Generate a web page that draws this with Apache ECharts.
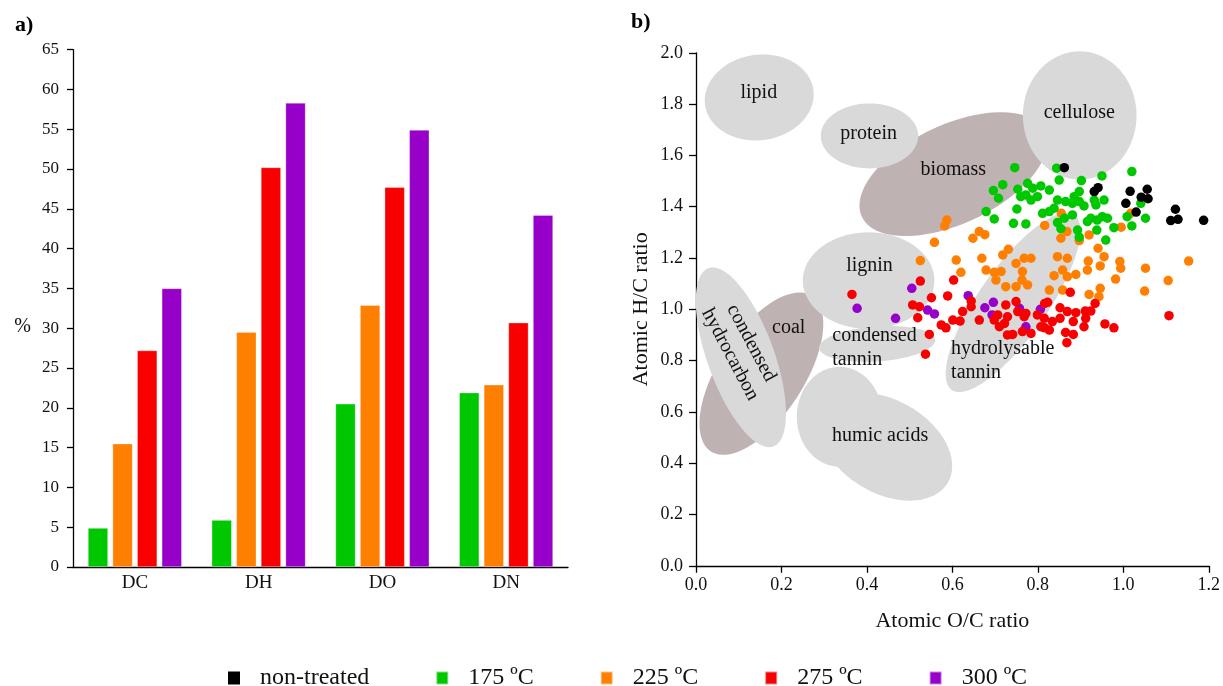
<!DOCTYPE html>
<html>
<head>
<meta charset="utf-8">
<script src="https://cdn.jsdelivr.net/npm/echarts@6/dist/echarts.min.js"></script>
<style>
html,body{margin:0;padding:0;background:#fff;}
#chart{width:1223px;height:686px;}
</style>
</head>
<body>
<div id="chart"></div>
<script>
// ---------- DATA ----------
var categories = ['DC', 'DH', 'DO', 'DN'];
var bar175 = [4.9, 5.9, 20.5, 21.9];
var bar225 = [15.5, 29.5, 32.9, 22.9];
var bar275 = [27.2, 50.2, 47.7, 30.7];
var bar300 = [35.0, 58.3, 54.9, 44.2];

var seriesNames = ['non-treated', '175 ºC', '225 ºC', '275 ºC', '300 ºC'];

// van Krevelen points [O/C, H/C]
var ptsNonTreated = [[0.862,1.552],[0.932,1.459],[0.941,1.474],[1.016,1.460],[1.056,1.468],[1.042,1.437],[1.058,1.431],[1.006,1.413],[1.030,1.379],[1.122,1.390],[1.111,1.346],[1.128,1.351],[1.188,1.347]];
var pts175 = [[0.746,1.552],[0.718,1.486],[0.696,1.463],[0.708,1.433],[0.679,1.381],[0.698,1.352],[0.751,1.391],[0.743,1.335],[0.753,1.468],[0.760,1.439],
  [0.844,1.550],[0.950,1.520],[1.020,1.537],[0.902,1.502],[0.850,1.504],[0.827,1.465],[0.807,1.481],[0.788,1.472],[0.776,1.491],[0.772,1.446],[0.799,1.439],[0.784,1.426],[0.846,1.426],[0.865,1.420],[0.885,1.439],[0.897,1.459],[0.897,1.420],[0.881,1.413],[0.908,1.403],[0.932,1.426],[0.955,1.426],[0.936,1.407],[0.951,1.361],[0.963,1.355],[0.924,1.355],[0.916,1.342],[0.939,1.348],[0.881,1.368],[0.862,1.355],[0.846,1.338],[0.854,1.314],[0.893,1.309],[0.897,1.281],[0.938,1.309],[0.959,1.270],[0.978,1.318],[1.009,1.361],[1.020,1.325],[1.052,1.355],[1.041,1.413],[0.811,1.374],[0.827,1.381],[0.838,1.394],[0.772,1.333]];
var pts225 = [[0.587,1.348],[0.582,1.325],[0.558,1.261],[0.648,1.277],[0.663,1.303],[0.676,1.291],[0.731,1.234],
  [0.855,1.374],[0.816,1.327],[0.868,1.303],[0.854,1.277],[0.897,1.268],[0.920,1.290],[0.995,1.320],[1.017,1.374],[0.941,1.238],
  [0.525,1.190],[0.609,1.192],[0.669,1.199],[0.718,1.212],[0.620,1.144],[0.679,1.153],[0.714,1.147],[0.702,1.114],[0.725,1.088],[0.749,1.088],[0.763,1.114],[0.764,1.147],[0.749,1.179],[0.768,1.199],[0.698,1.144],
  [0.784,1.199],[0.846,1.205],[0.869,1.199],[0.918,1.188],[0.955,1.205],[0.992,1.186],[0.994,1.160],[0.946,1.169],[0.916,1.153],[0.858,1.153],[0.838,1.131],[0.869,1.127],[0.889,1.136],[0.776,1.095],[0.827,1.075],[0.858,1.075],[0.920,1.058],[0.943,1.049],[0.946,1.082],[0.982,1.118],[1.052,1.160],[1.105,1.112],[1.050,1.071],[1.153,1.188]];
var pts275 = [[0.365,1.058],[0.525,1.110],[0.603,1.114],[0.551,1.045],[0.589,1.052],[0.507,1.017],[0.523,1.010],[0.519,0.967],[0.574,0.939],[0.585,0.928],[0.601,0.958],[0.618,0.954],[0.624,0.991],[0.644,1.032],[0.644,1.010],[0.663,0.958],[0.698,0.958],[0.710,0.932],[0.722,0.945],[0.725,1.017],[0.749,1.030],[0.753,0.991],[0.772,0.984],[0.764,0.913],[0.729,0.900],[0.741,0.902],[0.546,0.902],[0.537,0.825],[0.706,0.978],[0.729,0.971],
  [0.876,1.066],[0.768,0.971],[0.816,1.023],[0.823,1.027],[0.799,0.978],[0.815,0.965],[0.852,1.006],[0.852,0.965],[0.834,0.952],[0.816,0.928],[0.827,0.919],[0.784,0.906],[0.869,0.991],[0.889,0.987],[0.911,0.993],[0.924,0.993],[0.934,1.023],[0.912,0.965],[0.883,0.952],[0.908,0.932],[0.865,0.910],[0.883,0.902],[0.957,0.943],[0.978,0.928],[0.868,0.870],[1.107,0.975],[0.807,0.932]];
var pts300 = [[0.377,1.004],[0.467,0.965],[0.505,1.082],[0.542,0.997],[0.558,0.982],[0.637,1.053],[0.676,1.006],[0.696,1.027],[0.693,0.978],[0.772,0.932],[0.757,1.004],[0.806,1.000]];

// compound-class regions: [centre O/C, centre H/C, semi-axis a, semi-axis b (both in O/C units), tilt deg, kind 0=grey 1=brown]
var regionShapes = [
  [0.153, 0.749, 0.217, 0.100, -57, 1],  // coal
  [0.602, 1.527, 0.236, 0.116, -25, 1],  // biomass
  [0.148, 1.826, 0.128, 0.100, -8, 0],   // lipid
  [0.406, 1.676, 0.114, 0.076, 0, 0],    // protein
  [0.898, 1.756, 0.133, 0.150, 0, 0],    // cellulose
  [0.404, 1.112, 0.154, 0.113, 0, 0],    // lignin
  [0.424, 0.865, 0.136, 0.041, -4, 0],   // condensed tannin
  [0.742, 1.027, 0.250, 0.080, -55, 0],  // hydrolysable tannin
  [0.105, 0.813, 0.222, 0.078, 70, 0],   // condensed hydrocarbon
  [0.336, 0.581, 0.100, 0.117, 0, 0],    // humic acids (lobe 1)
  [0.445, 0.464, 0.167, 0.109, 30, 0]    // humic acids (lobe 2)
];
// region names: [O/C, H/C, text, rotation deg (clockwise), align]
var regionLabels = [
  [0.147, 1.843, 'lipid', 0, 'center'],
  [0.404, 1.684, 'protein', 0, 'center'],
  [0.602, 1.544, 'biomass', 0, 'center'],
  [0.897, 1.766, 'cellulose', 0, 'center'],
  [0.406, 1.169, 'lignin', 0, 'center'],
  [0.217, 0.930, 'coal', 0, 'center'],
  [0.319, 0.850, 'condensed\ntannin', 0, 'left'],
  [0.597, 0.798, 'hydrolysable\ntannin', 0, 'left'],
  [0.431, 0.507, 'humic acids', 0, 'center'],
  [0.1046, 0.846, 'condensed\nhydrocarbon', 62, 'center']
];

// ---------- STYLE ----------
var FONT = '"Liberation Serif", "Times New Roman", serif';
var C_BLACK = '#000000', C_GREEN = '#00c800', C_ORANGE = '#ff8000', C_RED = '#f80000', C_PURPLE = '#9600c8';
var GREY = '#d9d9d9', BROWN = '#bfb2b2';

var chart = echarts.init(document.getElementById('chart'), null, {renderer: 'canvas'});

function barSeries(name, data, color) {
  return {
    name: name, type: 'bar', xAxisIndex: 0, yAxisIndex: 0, data: data,
    barWidth: 20, barGap: '23%',
    itemStyle: {color: color, borderColor: 'rgba(255,255,255,0.5)', borderWidth: 0.6}
  };
}
function scatterSeries(name, data, color) {
  return {
    name: name, type: 'scatter', xAxisIndex: 1, yAxisIndex: 1, data: data,
    symbolSize: 9.5, z: 4,
    itemStyle: {color: color, opacity: 1}
  };
}

var axisLineStyle = {lineStyle: {color: '#000', width: 1.3}};

var option = {
  backgroundColor: '#fff',
  animation: false,
  textStyle: {fontFamily: FONT},
  graphic: [
    {type: 'text', left: 15, top: 14, style: {text: 'a)', font: 'bold 22px ' + FONT, fill: '#000'}},
    {type: 'text', left: 631, top: 11, style: {text: 'b)', font: 'bold 22px ' + FONT, fill: '#000'}}
  ],
  legend: {
    data: seriesNames,
    left: 223, top: 661,
    icon: 'rect', itemWidth: 12, itemHeight: 13, itemGap: 66,
    textStyle: {fontSize: 24, fontFamily: FONT, color: '#111', padding: [0, 0, 0, 15]}
  },
  grid: [
    {left: 73, top: 49.6, width: 495, height: 517.4, containLabel: false},
    {left: 696, top: 52.8, width: 514, height: 513, containLabel: false}
  ],
  xAxis: [
    {
      gridIndex: 0, type: 'category', data: categories,
      axisLine: axisLineStyle, axisTick: {show: false},
      axisLabel: {fontSize: 19, fontFamily: FONT, color: '#111', margin: 7},
      splitLine: {show: false}
    },
    {
      gridIndex: 1, type: 'value', min: 0, max: 1.2, interval: 0.2,
      name: 'Atomic O/C ratio', nameLocation: 'middle', nameGap: 44,
      nameTextStyle: {fontSize: 22, fontFamily: FONT, color: '#111'},
      axisLine: axisLineStyle, axisTick: {show: true, inside: false, length: 7, lineStyle: {color: '#000', width: 1.3}},
      axisLabel: {fontSize: 18, fontFamily: FONT, color: '#111', margin: 10, formatter: function (v) { return v.toFixed(1); }},
      splitLine: {show: false}
    }
  ],
  yAxis: [
    {
      gridIndex: 0, type: 'value', min: 0, max: 65, interval: 5,
      name: '%', nameLocation: 'middle', nameRotate: 0, nameGap: 42,
      nameTextStyle: {fontSize: 20, fontFamily: FONT, color: '#111', verticalAlign: 'top', padding: [8, 0, 0, 0]},
      axisLine: {show: true, lineStyle: {color: '#000', width: 1.3}},
      axisTick: {show: true, length: 6, lineStyle: {color: '#000', width: 1.3}},
      axisLabel: {fontSize: 17, fontFamily: FONT, color: '#111', margin: 14},
      splitLine: {show: false}
    },
    {
      gridIndex: 1, type: 'value', min: 0, max: 2.0, interval: 0.2,
      name: 'Atomic H/C ratio', nameLocation: 'middle', nameGap: 44,
      nameTextStyle: {fontSize: 22, fontFamily: FONT, color: '#111'},
      axisLine: {show: true, lineStyle: {color: '#000', width: 1.3}},
      axisTick: {show: true, length: 7, lineStyle: {color: '#000', width: 1.3}},
      axisLabel: {fontSize: 18, fontFamily: FONT, color: '#111', margin: 13, formatter: function (v) { return v.toFixed(1); }},
      splitLine: {show: false}
    }
  ],
  series: [
    barSeries(seriesNames[1], bar175, C_GREEN),
    barSeries(seriesNames[2], bar225, C_ORANGE),
    barSeries(seriesNames[3], bar275, C_RED),
    barSeries(seriesNames[4], bar300, C_PURPLE),
    {
      type: 'custom', xAxisIndex: 1, yAxisIndex: 1, z: 1, silent: true,
      data: regionShapes,
      encode: {x: 0, y: 1},
      renderItem: function (params, api) {
        var c = api.coord([api.value(0), api.value(1)]);
        var a = api.size([api.value(2), 0])[0];
        var b = api.size([api.value(3), 0])[0];
        var ang = api.value(4) * Math.PI / 180;
        var pts = [];
        for (var i = 0; i < 96; i++) {
          var t = i / 96 * 2 * Math.PI;
          var x = a * Math.cos(t), y = b * Math.sin(t);
          pts.push([c[0] + x * Math.cos(ang) - y * Math.sin(ang), c[1] + x * Math.sin(ang) + y * Math.cos(ang)]);
        }
        return {type: 'polygon', shape: {points: pts}, style: {fill: api.value(5) === 1 ? BROWN : GREY}};
      }
    },
    {
      type: 'custom', xAxisIndex: 1, yAxisIndex: 1, z: 2, silent: true,
      data: regionLabels.map(function (r) { return [r[0], r[1]]; }),
      encode: {x: 0, y: 1},
      renderItem: function (params, api) {
        var r = regionLabels[params.dataIndex];
        var c = api.coord([api.value(0), api.value(1)]);
        return {
          type: 'text', x: c[0], y: c[1], rotation: -r[3] * Math.PI / 180,
          style: {
            text: r[2], fill: '#111', font: '20px ' + FONT,
            align: r[4], textAlign: r[4], verticalAlign: 'middle', textVerticalAlign: 'middle',
            lineHeight: 24
          }
        };
      }
    },
    scatterSeries(seriesNames[2], pts225, C_ORANGE),
    scatterSeries(seriesNames[1], pts175, C_GREEN),
    scatterSeries(seriesNames[4], pts300, C_PURPLE),
    scatterSeries(seriesNames[3], pts275, C_RED),
    scatterSeries(seriesNames[0], ptsNonTreated, C_BLACK)
  ]
};
chart.setOption(option);
</script>
</body>
</html>
